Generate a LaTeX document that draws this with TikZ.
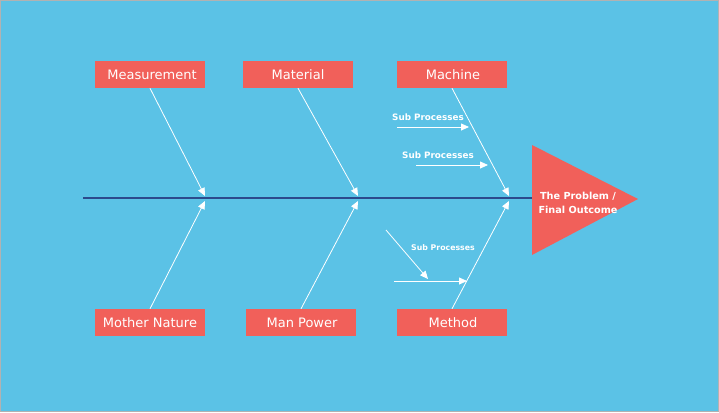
\documentclass[tikz,border=0pt]{standalone}
\usepackage{fontspec}
\setmainfont{DejaVu Sans}
\usetikzlibrary{arrows.meta}
\definecolor{bg}{HTML}{5BC2E6}
\definecolor{boxred}{HTML}{F1605A}
\definecolor{spine}{HTML}{2C4A8C}
\tikzset{
  catbox/.style={fill=boxred, draw=none, minimum width=110pt, minimum height=27pt, inner sep=0pt, text=white, font=\fontsize{13}{15}\selectfont},
  bone/.style={draw=white, line width=0.8pt, -{Triangle[length=8pt,width=7pt]}},
  sublabel/.style={text=white, font=\bfseries\fontsize{8.8}{10}\selectfont, inner sep=0pt},
}
\begin{document}
\begin{tikzpicture}[x=1pt,y=-1pt]
\fill[bg] (0,0) rectangle (719,412);
\draw[gray!60, line width=0.6pt] (0.3,0.3) rectangle (718.7,411.7);
\useasboundingbox (0,0) rectangle (719,412);
% spine
\coordinate (sL) at (83,198);
\coordinate (sR) at (532,198);
\draw[spine, line width=1.2pt] (sL) -- (sR);
% head
\fill[boxred] (532,145) -- (638,199) -- (532,255) -- cycle;
\node[text=white, font=\bfseries\fontsize{9.7}{14}\selectfont, align=center] (head) at (578,202.5) {The Problem /\\Final Outcome};
% category boxes
\node[catbox] (meas) at (150,74.5) {\hspace{4pt}Measurement};
\node[catbox] (mat) at (298,74.5) {Material};
\node[catbox] (mach) at (452,74.5) {\hspace{2pt}Machine};
\node[catbox] (moth) at (150,322.5) {Mother Nature};
\node[catbox] (man) at (301,322.5) {\hspace{2pt}Man Power};
\node[catbox] (meth) at (452,322.5) {\hspace{2pt}Method};
% bone endpoints
\coordinate (t1) at (205,196);
\coordinate (t2) at (358,196);
\coordinate (t3) at (509,196);
\coordinate (b1) at (205,201);
\coordinate (b2) at (358,201);
\coordinate (b3) at (509,201);
\draw[bone] (meas.south) -- (t1);
\draw[bone] (mat.south) -- (t2);
\draw[bone] (mach.south) -- (t3);
\draw[bone] (moth.north) -- (b1);
\draw[bone] (man.north) -- (b2);
\draw[bone] (meth.north) -- (b3);
% sub processes
\coordinate (s1a) at (397,127);
\coordinate (s1b) at (469,127);
\coordinate (s2a) at (416,165);
\coordinate (s2b) at (488,165);
\coordinate (s3a) at (386,230);
\coordinate (s3b) at (428,279);
\coordinate (s4a) at (394,281);
\coordinate (s4b) at (467,281);
\draw[bone] (s1a) -- (s1b);
\draw[bone] (s2a) -- (s2b);
\draw[bone] (s3a) -- (s3b);
\draw[bone] (s4a) -- (s4b);
\node[sublabel] (l1) at (428,117.5) {Sub Processes};
\node[sublabel] (l2) at (438,155.5) {Sub Processes};
\node[sublabel, font=\bfseries\fontsize{7.8}{9}\selectfont] (l3) at (443,247.5) {Sub Processes};
\end{tikzpicture}
\end{document}
